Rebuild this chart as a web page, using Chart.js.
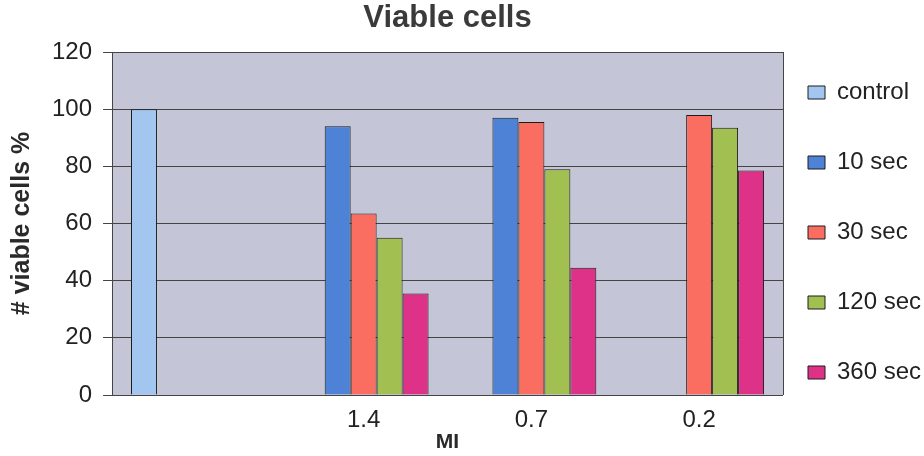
<!DOCTYPE html>
<html>
<head>
<meta charset="utf-8">
<title>Viable cells</title>
<script src="https://cdn.jsdelivr.net/npm/chart.js@4.4.1/dist/chart.umd.min.js"></script>
<style>
    html, body { margin: 0; padding: 0; background: #ffffff; overflow: hidden; }
    #caixaGrafico { width: 924px; height: 456px; }
</style>
</head>
<body>
<div id="caixaGrafico"><canvas id="graficoViaveis"></canvas></div>
<script>
// dados
var categorias = ['', '1.4', '0.7', '0.2'];
var nomesSeries = ['control', '10 sec', '30 sec', '120 sec', '360 sec'];
var valoresControl = [100, null, null, null];
var valores10seg = [null, 94, 97, null];
var valores30seg = [null, 63.5, 95.5, 98];
var valores120seg = [null, 55, 79, 93.5];
var valores360seg = [null, 35.5, 44.5, 78.5];
var ticksY = [0, 20, 40, 60, 80, 100, 120];

var coresSeries = ['#a2c6f0', '#4e82d6', '#fa6e62', '#a2bf52', '#de3288'];

Chart.defaults.font.family = "'Liberation Sans', Arial, sans-serif";
Chart.defaults.color = '#222222';

// fundo cinza da area de plotagem + borda direita
var fundoArea = {
    id: 'fundoArea',
    beforeDraw: function (chart) {
        var a = chart.chartArea;
        var ctx = chart.ctx;
        ctx.save();
        ctx.fillStyle = '#c4c5d6';
        ctx.fillRect(a.left, a.top, a.right - a.left, a.bottom - a.top);
        ctx.restore();
    },
    beforeDatasetsDraw: function (chart) {
        var a = chart.chartArea;
        var ctx = chart.ctx;
        ctx.save();
        ctx.strokeStyle = '#444444';
        ctx.lineWidth = 1;
        ctx.beginPath();
        ctx.moveTo(Math.round(a.right) + 0.5, a.top);
        ctx.lineTo(Math.round(a.right) + 0.5, a.bottom);
        ctx.stroke();
        ctx.restore();
    }
};

var valoresSeries = [valoresControl, valores10seg, valores30seg, valores120seg, valores360seg];
var dadosViaveis = {
    labels: categorias,
    datasets: []
};
for (var i = 0; i < nomesSeries.length; i++) {
    dadosViaveis.datasets.push({
        label: nomesSeries[i],
        data: valoresSeries[i],
        backgroundColor: coresSeries[i],
        borderColor: '#1c1c1c',
        borderWidth: 1,
        categoryPercentage: 0.774,
        barPercentage: 1
    });
}

var graficoViaveis = new Chart(document.getElementById('graficoViaveis'), {
    type: 'bar',
    data: dadosViaveis,
    plugins: [fundoArea],
    options: {
        responsive: true,
        maintainAspectRatio: false,
        animation: false,
        layout: { padding: 0 },
        scales: {
            x: {
                grid: { display: false, drawTicks: false },
                border: { display: false },
                ticks: {
                    padding: 13,
                    font: { size: 24, lineHeight: 1 },
                    color: '#222222'
                },
                title: {
                    display: true,
                    text: 'MI',
                    font: { size: 21, weight: 'bold', lineHeight: 1 },
                    padding: { top: -13.5, bottom: 3.5 },
                    color: '#2a2a2a'
                }
            },
            y: {
                min: 0,
                max: 120,
                afterBuildTicks: function (escala) {
                    escala.ticks = ticksY.map(function (v) { return { value: v }; });
                },
                grid: { color: '#444444', lineWidth: 1, tickLength: 9 },
                border: { display: true, color: '#444444' },
                ticks: {
                    padding: 11,
                    font: { size: 24, lineHeight: 1 },
                    color: '#222222'
                },
                title: {
                    display: true,
                    text: '# viable cells %',
                    font: { size: 25, weight: 'bold', lineHeight: 1 },
                    padding: { top: 9.5, bottom: 6.5 },
                    color: '#2a2a2a'
                }
            }
        },
        plugins: {
            title: {
                display: true,
                text: 'Viable cells',
                fullSize: false,
                font: { size: 31, weight: 'bold', lineHeight: 1 },
                padding: { top: 3, bottom: 18 },
                color: '#3a3a3a'
            },
            legend: {
                position: 'right',
                maxWidth: 141,
                title: { display: true, text: '', padding: 0, font: { size: 30, lineHeight: 1 } },
                labels: {
                    boxWidth: 17,
                    boxHeight: 13,
                    padding: 25,
                    color: '#222222',
                    font: { size: 24, lineHeight: 1.875 },
                    generateLabels: function (chart) {
                        var itens = Chart.defaults.plugins.legend.labels.generateLabels(chart);
                        itens.forEach(function (item) { item.text = [item.text]; });
                        return itens;
                    }
                }
            },
            tooltip: { enabled: false }
        }
    }
});
</script>
</body>
</html>
